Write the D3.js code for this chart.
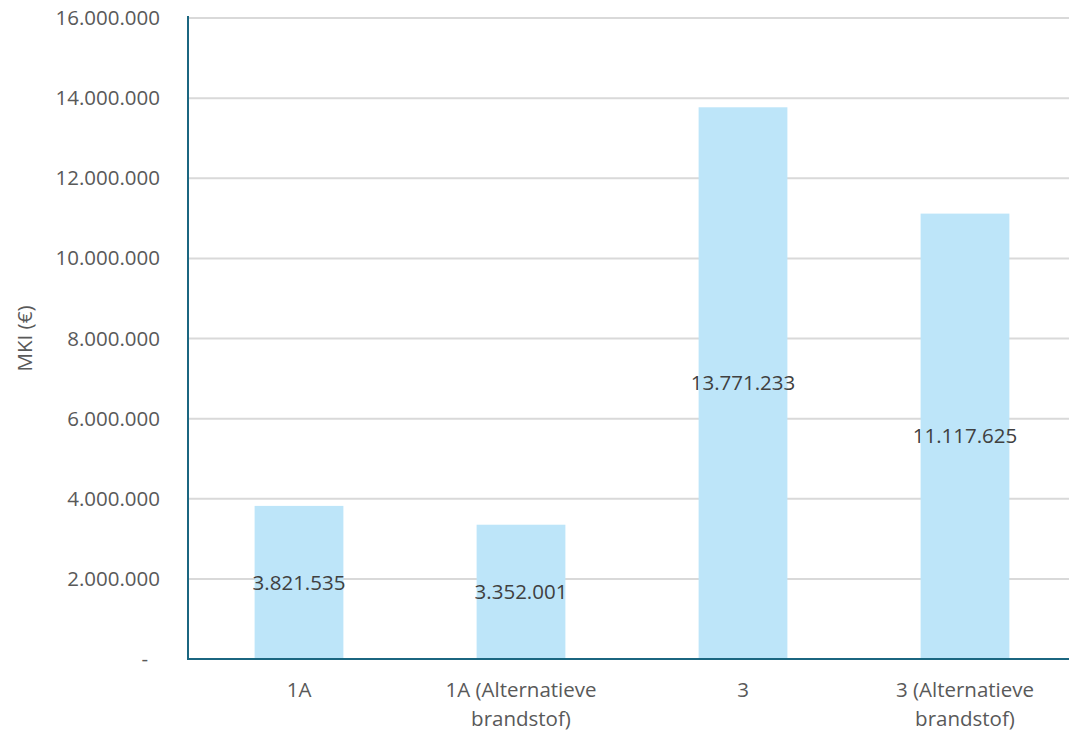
<!DOCTYPE html>
<html>
<head>
<meta charset="utf-8">
<script src="https://cdn.jsdelivr.net/npm/d3@7"></script>
<style>
  html, body { margin: 0; padding: 0; background: #ffffff; }
  svg { display: block; }
  text { font-family: "Open Sans", "Liberation Sans", sans-serif; }
</style>
</head>
<body>
<svg id="chart" width="1069" height="733"></svg>
<script>
const categories = ["1A", "1A (Alternatieve brandstof)", "3", "3 (Alternatieve brandstof)"];
const categoryLines = [["1A"], ["1A (Alternatieve", "brandstof)"], ["3"], ["3 (Alternatieve", "brandstof)"]];
const values = [3821535, 3352001, 13771233, 11117625];
const valueLabels = ["3.821.535", "3.352.001", "13.771.233", "11.117.625"];
const yTicks = [0, 2000000, 4000000, 6000000, 8000000, 10000000, 12000000, 14000000, 16000000];
const yTickLabels = ["-", "2.000.000", "4.000.000", "6.000.000", "8.000.000", "10.000.000", "12.000.000", "14.000.000", "16.000.000"];
const yAxisTitle = "MKI (€)";

const svg = d3.select("#chart");
const pLeft = 188, pRight = 1076, pTop = 18, pBottom = 659;
const fs = "20.5px";

const x = d3.scaleBand().domain(categories).range([pLeft, pRight]).paddingInner(0.6).paddingOuter(0.3);
const y = d3.scaleLinear().domain([0, 16000000]).range([pBottom, pTop]);

// gridlines
svg.append("g").selectAll("line").data(yTicks.slice(1)).join("line")
  .attr("x1", pLeft).attr("x2", pRight)
  .attr("y1", d => y(d)).attr("y2", d => y(d))
  .attr("stroke", "#d9d9d9").attr("stroke-width", 2);

// bars
svg.append("g").selectAll("rect").data(values).join("rect")
  .attr("x", (d, i) => x(categories[i]))
  .attr("width", x.bandwidth())
  .attr("y", d => y(d))
  .attr("height", d => pBottom - y(d))
  .attr("fill", "#bde5f9");

// y axis via d3
const yAxis = d3.axisLeft(y).tickValues(yTicks).tickSize(0).tickPadding(28)
  .tickFormat((d, i) => yTickLabels[i]);
const gy = svg.append("g").attr("transform", `translate(${pLeft},0)`).call(yAxis);
gy.select(".domain").remove();
gy.selectAll("text").attr("fill", "#595959").style("font-size", fs)
  .style("font-family", "'Open Sans', sans-serif")
  .attr("dx", d => d === 0 ? -12 : 0);

// x axis via d3
const xAxis = d3.axisBottom(x).tickSize(0).tickFormat("");
const gx = svg.append("g").attr("transform", `translate(0,${pBottom})`).call(xAxis);
gx.select(".domain").remove();

svg.append("line").attr("x1", pLeft).attr("x2", pRight).attr("y1", pBottom).attr("y2", pBottom)
  .attr("stroke", "#1b6680").attr("stroke-width", 2);
svg.append("line").attr("x1", pLeft).attr("x2", pLeft).attr("y1", pTop - 2).attr("y2", pBottom + 1)
  .attr("stroke", "#1b6680").attr("stroke-width", 2);

// category labels
const cl = svg.append("g").selectAll("text").data(categories).join("text")
  .attr("x", d => x(d) + x.bandwidth() / 2)
  .attr("y", 697)
  .attr("text-anchor", "middle")
  .attr("fill", "#595959")
  .style("font-size", fs);
cl.each(function(d, i) {
  const t = d3.select(this);
  categoryLines[i].forEach((line, j) => {
    t.append("tspan").attr("x", x(d) + x.bandwidth() / 2).attr("dy", j === 0 ? 0 : 29).text(line);
  });
});

// data labels
svg.append("g").selectAll("text").data(values).join("text")
  .attr("x", (d, i) => x(categories[i]) + x.bandwidth() / 2)
  .attr("y", d => y(d / 2))
  .attr("dy", "0.35em")
  .attr("text-anchor", "middle")
  .attr("fill", "#404040")
  .style("font-size", fs)
  .text((d, i) => valueLabels[i]);

// y axis title
svg.append("text")
  .attr("transform", `translate(32,${(pTop + pBottom) / 2}) rotate(-90)`)
  .attr("text-anchor", "middle")
  .attr("fill", "#595959")
  .style("font-size", fs)
  .text(yAxisTitle);
</script>
</body>
</html>
